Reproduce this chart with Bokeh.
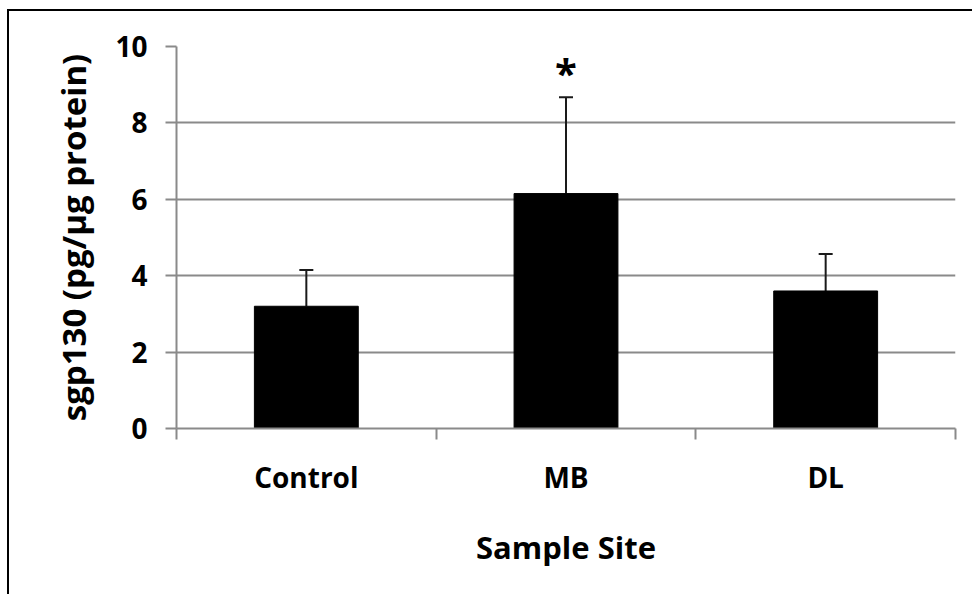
from bokeh.plotting import figure
from bokeh.models import Range1d, FixedTicker, ColumnDataSource, Whisker, TeeHead
from bokeh.core.properties import value
from bokeh.embed import file_html
from bokeh.resources import INLINE

# sgp130 by sample site (mean with upper error)
categories = ["Control", "MB", "DL"]
means = [3.20, 6.15, 3.60]
errors = [0.95, 2.52, 0.97]
significance = ["", "*", ""]
y_ticks = [0, 2, 4, 6, 8, 10]

FONT = "Open Sans"
GRID = "#8a8a8a"

x_pos = [i + 0.5 for i in range(len(categories))]
src = ColumnDataSource(dict(
    x=x_pos,
    mean=means,
    upper=[m + e for m, e in zip(means, errors)],
    sig=significance,
))

p = figure(width=965, height=585, output_backend="svg", toolbar_location=None,
           x_range=Range1d(0, len(categories)), y_range=Range1d(0, 10),
           min_border_left=167, min_border_right=19,
           min_border_top=35, min_border_bottom=168)
p.outline_line_color = None
p.background_fill_color = "white"
p.border_fill_color = "white"
# chart-area border (left and top edges of the framed chart)
p.styles = {"margin-left": "7px", "margin-top": "9px",
            "border-left": "2px solid black", "border-top": "2px solid black"}

# bars
p.vbar(x="x", top="mean", width=0.4, source=src,
       fill_color="black", line_color="black", line_width=1)

# upper error bars
p.add_layout(Whisker(source=src, base="x", upper="upper", lower="mean",
                     dimension="height", line_color="#1a1a1a", line_width=2,
                     upper_head=TeeHead(size=14, line_color="#1a1a1a", line_width=2),
                     lower_head=None))

# significance marker
p.text(x="x", y="upper", text="sig", source=src,
       text_font=value(FONT), text_font_style="bold", text_font_size="40px",
       text_align="center", text_baseline="alphabetic", y_offset=-25,
       text_color="black")

# grid
p.xgrid.visible = False
p.ygrid.ticker = FixedTicker(ticks=y_ticks)
p.ygrid.grid_line_color = GRID
p.ygrid.grid_line_width = 2

# y axis
p.yaxis.ticker = FixedTicker(ticks=y_ticks)
p.yaxis.axis_label = "sgp130 (pg/µg protein)"
p.yaxis.axis_label_text_font = FONT
p.yaxis.axis_label_text_font_style = "bold"
p.yaxis.axis_label_text_font_size = "33px"
p.yaxis.axis_label_text_color = "black"
p.yaxis.axis_label_standoff = 16
p.yaxis.major_label_text_font = FONT
p.yaxis.major_label_text_font_style = "bold"
p.yaxis.major_label_text_font_size = "28px"
p.yaxis.major_label_text_color = "black"
p.yaxis.major_label_standoff = 18
p.yaxis.axis_line_color = GRID
p.yaxis.axis_line_width = 2
p.yaxis.major_tick_line_color = GRID
p.yaxis.major_tick_line_width = 2
p.yaxis.major_tick_out = 11
p.yaxis.major_tick_in = 0
p.yaxis.minor_tick_line_color = None

# x axis: labels at category centres, tick marks at category boundaries
p.xaxis.ticker = FixedTicker(ticks=x_pos, minor_ticks=list(range(len(categories) + 1)))
p.xaxis.major_label_overrides = {x: c for x, c in zip(x_pos, categories)}
p.xaxis.axis_label = "Sample Site"
p.xaxis.axis_label_text_font = FONT
p.xaxis.axis_label_text_font_style = "bold"
p.xaxis.axis_label_text_font_size = "31px"
p.xaxis.axis_label_text_color = "black"
p.xaxis.axis_label_standoff = 27
p.xaxis.major_label_text_font = FONT
p.xaxis.major_label_text_font_style = "bold"
p.xaxis.major_label_text_font_size = "28px"
p.xaxis.major_label_text_color = "black"
p.xaxis.major_label_standoff = 18
p.xaxis.axis_line_color = GRID
p.xaxis.axis_line_width = 2
p.xaxis.major_tick_out = 0
p.xaxis.major_tick_in = 0
p.xaxis.minor_tick_line_color = GRID
p.xaxis.minor_tick_line_width = 2
p.xaxis.minor_tick_out = 11
p.xaxis.minor_tick_in = 0

open("out.html", "w").write(file_html(p, INLINE))
